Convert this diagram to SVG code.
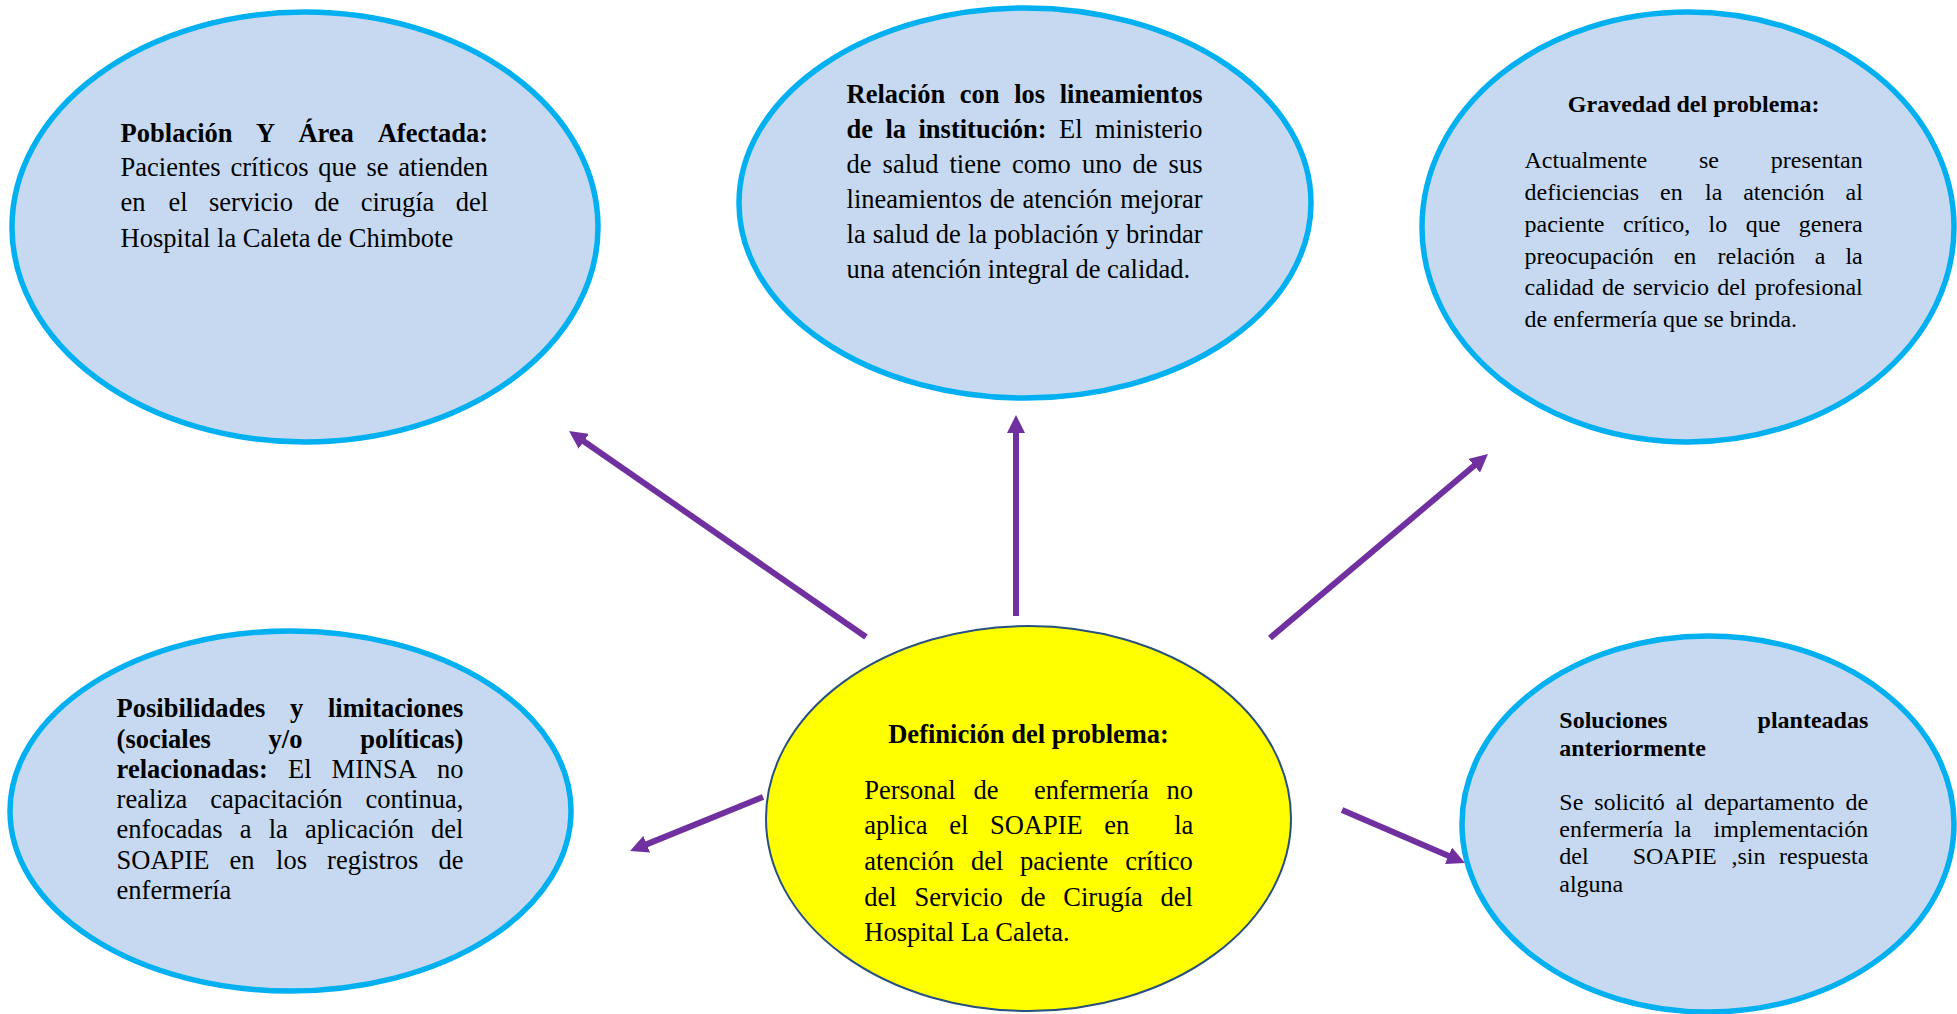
<svg xmlns="http://www.w3.org/2000/svg" width="1957" height="1014" viewBox="0 0 1957 1014">
<style>
.bub{fill:#C6D9F1;stroke:#00B0F0;stroke-width:5.5}
.core{fill:#FFFF00;stroke:#27507F;stroke-width:2}
.t{font-family:"Liberation Serif","Times New Roman",serif;fill:#000}
.f26{font-size:26.5px}
.f24{font-size:24px}
.b{font-weight:bold}
.arr{stroke:#7030A0;stroke-width:6;fill:none;marker-end:url(#ah)}
</style>
<defs>
<marker id="ah" viewBox="0 0 18 18" markerWidth="18" markerHeight="18" refX="1" refY="9" orient="auto" markerUnits="userSpaceOnUse">
<path d="M0,0 L18,9 L0,18 z" fill="#7030A0"/>
</marker>
</defs>
<rect width="1957" height="1014" fill="#FFFFFF"/>

<g id="poblacion">
<ellipse class="bub" cx="305" cy="227" rx="293" ry="215"/>
<text class="t f26 b" y="141.7"><tspan x="120.6">Población</tspan><tspan x="255.9">Y</tspan><tspan x="298.4">Área</tspan><tspan x="377.7">Afectada:</tspan></text>
<text class="t f26" y="176"><tspan x="120.6">Pacientes</tspan><tspan x="230.5">críticos</tspan><tspan x="318.3">que</tspan><tspan x="366.4">se</tspan><tspan x="398.3">atienden</tspan></text>
<text class="t f26" y="211"><tspan x="120.6">en</tspan><tspan x="168.5">el</tspan><tspan x="209">servicio</tspan><tspan x="314.3">de</tspan><tspan x="360.7">cirugía</tspan><tspan x="455.7">del</tspan></text>
<text class="t f26" x="120.6" y="246.5">Hospital la Caleta de Chimbote</text>
</g>

<g id="lineamientos">
<ellipse class="bub" cx="1025" cy="203" rx="286" ry="195"/>
<text class="t f26 b" y="103.3"><tspan x="846.6">Relación</tspan><tspan x="959.8">con</tspan><tspan x="1014.2">los</tspan><tspan x="1059.7">lineamientos</tspan></text>
<text class="t f26" y="138.3"><tspan class="b" x="846.6">de</tspan><tspan class="b" x="885.5">la</tspan><tspan class="b" x="918.5">institución:</tspan><tspan x="1059">El</tspan><tspan x="1095">ministerio</tspan></text>
<text class="t f26" y="173.3"><tspan x="846.6">de</tspan><tspan x="882.6">salud</tspan><tspan x="949.5">tiene</tspan><tspan x="1012">como</tspan><tspan x="1081.9">uno</tspan><tspan x="1132.6">de</tspan><tspan x="1168.6">sus</tspan></text>
<text class="t f26" y="208.3"><tspan x="846.6">lineamientos</tspan><tspan x="989.8">de</tspan><tspan x="1022.6">atención</tspan><tspan x="1120.2">mejorar</tspan></text>
<text class="t f26" y="243.3"><tspan x="846.6">la</tspan><tspan x="872.8">salud</tspan><tspan x="935.8">de</tspan><tspan x="967.9">la</tspan><tspan x="994.1">población</tspan><tspan x="1105.7">y</tspan><tspan x="1126">brindar</tspan></text>
<text class="t f26" x="846.6" y="278.3">una atención integral de calidad.</text>
</g>

<g id="gravedad">
<ellipse class="bub" cx="1688" cy="227" rx="266" ry="215"/>
<text class="t f24 b" x="1693.6" y="111.7" text-anchor="middle">Gravedad del problema:</text>
<text class="t f24" y="168"><tspan x="1524.5">Actualmente</tspan><tspan x="1699">se</tspan><tspan x="1770.8">presentan</tspan></text>
<text class="t f24" y="200"><tspan x="1524.5">deficiencias</tspan><tspan x="1660">en</tspan><tspan x="1705">la</tspan><tspan x="1743.2">atención</tspan><tspan x="1845.5">al</tspan></text>
<text class="t f24" y="232"><tspan x="1524.5">paciente</tspan><tspan x="1622.9">crítico,</tspan><tspan x="1708.6">lo</tspan><tspan x="1745.7">que</tspan><tspan x="1798.8">genera</tspan></text>
<text class="t f24" y="263.5"><tspan x="1524.5">preocupación</tspan><tspan x="1673.7">en</tspan><tspan x="1717.6">relación</tspan><tspan x="1814.8">a</tspan><tspan x="1845.4">la</tspan></text>
<text class="t f24" y="295.3"><tspan x="1524.5">calidad</tspan><tspan x="1602">de</tspan><tspan x="1633">servicio</tspan><tspan x="1717.2">del</tspan><tspan x="1754.8">profesional</tspan></text>
<text class="t f24" x="1524.5" y="327">de enfermería que se brinda.</text>
</g>

<g id="posibilidades">
<ellipse class="bub" cx="290.5" cy="811" rx="280.5" ry="180"/>
<text class="t f26 b" y="717.3"><tspan x="116.6">Posibilidades</tspan><tspan x="290">y</tspan><tspan x="328">limitaciones</tspan></text>
<text class="t f26 b" y="747.5"><tspan x="116.6">(sociales</tspan><tspan x="268.6">y/o</tspan><tspan x="360.3">políticas)</tspan></text>
<text class="t f26" y="777.7"><tspan class="b" x="116.6">relacionadas:</tspan><tspan x="288.1">El</tspan><tspan x="331.6">MINSA</tspan><tspan x="436.9">no</tspan></text>
<text class="t f26" y="808"><tspan x="116.6">realiza</tspan><tspan x="210.2">capacitación</tspan><tspan x="365.5">continua,</tspan></text>
<text class="t f26" y="838.3"><tspan x="116.6">enfocadas</tspan><tspan x="239.7">a</tspan><tspan x="268.7">la</tspan><tspan x="305">aplicación</tspan><tspan x="431.1">del</tspan></text>
<text class="t f26" y="868.6"><tspan x="116.6">SOAPIE</tspan><tspan x="229.5">en</tspan><tspan x="276.1">los</tspan><tspan x="327.1">registros</tspan><tspan x="438.5">de</tspan></text>
<text class="t f26" x="116.6" y="898.9">enfermería</text>
</g>

<g id="definicion">
<ellipse class="core" cx="1028.5" cy="818.5" rx="262.5" ry="192.5"/>
<text class="t f26 b" x="1028.6" y="743.3" text-anchor="middle">Definición del problema:</text>
<text class="t f26" y="798.7"><tspan x="864.3">Personal</tspan><tspan x="973.4">de</tspan><tspan x="1033.9">enfermería</tspan><tspan x="1166.4">no</tspan></text>
<text class="t f26" y="834.3"><tspan x="864.3">aplica</tspan><tspan x="949.2">el</tspan><tspan x="989.9">SOAPIE</tspan><tspan x="1104.2">en</tspan><tspan x="1174.2">la</tspan></text>
<text class="t f26" y="869.9"><tspan x="864.3">atención</tspan><tspan x="970.9">del</tspan><tspan x="1020.1">paciente</tspan><tspan x="1125.2">crítico</tspan></text>
<text class="t f26" y="905.5"><tspan x="864.3">del</tspan><tspan x="914.5">Servicio</tspan><tspan x="1020.5">de</tspan><tspan x="1063.3">Cirugía</tspan><tspan x="1160.5">del</tspan></text>
<text class="t f26" x="864.3" y="941">Hospital La Caleta.</text>
</g>

<g id="soluciones">
<ellipse class="bub" cx="1708" cy="824" rx="246" ry="188"/>
<text class="t f24 b" x="1559.3" y="728.3">Soluciones</text>
<text class="t f24 b" x="1868.3" y="728.3" text-anchor="end">planteadas</text>
<text class="t f24 b" x="1559.3" y="756">anteriormente</text>
<text class="t f24" y="810"><tspan x="1559.3">Se</tspan><tspan x="1594.2">solicitó</tspan><tspan x="1675.8">al</tspan><tspan x="1704">departamento</tspan><tspan x="1845.5">de</tspan></text>
<text class="t f24" y="837.2"><tspan x="1559.3">enfermería</tspan><tspan x="1674.2">la</tspan><tspan x="1713.6">implementación</tspan></text>
<text class="t f24" y="864.4"><tspan x="1559.3">del</tspan><tspan x="1632.7">SOAPIE</tspan><tspan x="1731.5">,sin</tspan><tspan x="1779">respuesta</tspan></text>
<text class="t f24" x="1559.3" y="891.6">alguna</text>
</g>

<g id="connectors">
<line class="arr" x1="866" y1="637" x2="583" y2="440.7"/>
<line class="arr" x1="1016" y1="616" x2="1016" y2="432"/>
<line class="arr" x1="1270" y1="638" x2="1475" y2="465"/>
<line class="arr" x1="763" y1="797" x2="645.8" y2="844.6"/>
<line class="arr" x1="1342" y1="810" x2="1449.4" y2="856.2"/>
</g>
</svg>
